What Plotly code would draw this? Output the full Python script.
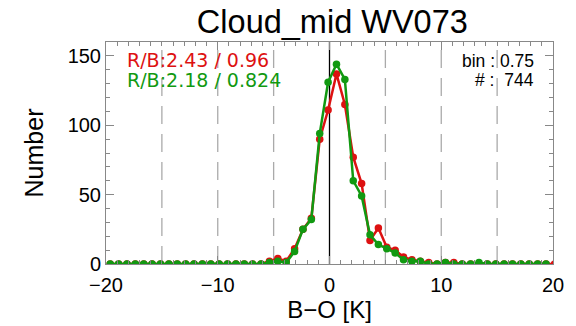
import plotly.graph_objects as go

bin_width = 0.75
x_start = -19.625
red_vals = [0]*19 + [2, 4, 2, 11, 25, 33, 90, 111, 137, 115, 77, 58, 17, 26, 12, 10, 5, 3, 2, 1, 0, 1, 1, 0, 0, 0, 0, 0, 0, 0, 0, 0, 0, 0, 0]
green_vals = [0]*19 + [1, 2, 1, 9, 25, 32, 94, 131, 144, 133, 60, 49, 21, 14, 11, 8, 3, 2, 2, 0, 0, 1, 0, 0, 0, 1, 0, 0, 0, 0, 0, 0, 0, 0]
centers = [x_start + bin_width*i for i in range(len(red_vals))]
dash_positions = [-15, -10, -5, 5, 10, 15]

RED = "#dd1111"
GREEN = "#119911"
FONT = "Liberation Sans, Arial, sans-serif"
FONT2 = "DejaVu Sans, sans-serif"

fig = go.Figure()
for xv in dash_positions:
    fig.add_shape(type="line", x0=xv, x1=xv, y0=0, y1=160, xref="x", yref="y",
                  line=dict(color="#aaaaaa", width=1.3, dash="18px,10px"), layer="below")
fig.add_shape(type="line", x0=0, x1=0, y0=0, y1=160, xref="x", yref="y",
              line=dict(color="black", width=1.3), layer="below")

fig.add_trace(go.Scatter(x=centers, y=red_vals, mode="lines+markers",
                         line=dict(color=RED, width=2.5), marker=dict(color=RED, size=7.5)))
fig.add_trace(go.Scatter(x=centers, y=green_vals, mode="lines+markers",
                         line=dict(color=GREEN, width=2.5), marker=dict(color=GREEN, size=7.5)))

axis_common = dict(showgrid=False, zeroline=False, showline=True, linecolor="#888888", linewidth=1,
                   mirror="allticks", ticks="inside", tickcolor="#888888",
                   tickfont=dict(size=20, color="black", family=FONT))
fig.update_xaxes(range=[-20, 20], tickvals=[-20, -10, 0, 10, 20], ticklen=8, ticklabelstandoff=3,
                 minor=dict(dtick=1, ticklen=4, ticks="inside", tickcolor="#888888"),
                 title=dict(text="B−O [K]", font=dict(size=24, color="black", family=FONT), standoff=0),
                 **axis_common)
fig.update_yaxes(range=[0, 160], tickvals=[0, 50, 100, 150], ticklen=8,
                 minor=dict(dtick=10, ticklen=4, ticks="inside", tickcolor="#888888"),
                 title=dict(text="Number", font=dict(size=25, color="black", family=FONT), standoff=16),
                 **axis_common)

fig.add_annotation(x=0.042, y=0.919, xref="paper", yref="paper", xanchor="left", yanchor="middle",
                   text="R/B:2.43 / 0.96", showarrow=False, font=dict(size=19, color=RED, family=FONT2))
fig.add_annotation(x=0.042, y=0.829, xref="paper", yref="paper", xanchor="left", yanchor="middle",
                   text="R/B:2.18 / 0.824", showarrow=False, font=dict(size=19, color=GREEN, family=FONT2))
fig.add_annotation(x=0.962, y=0.914, xref="paper", yref="paper", xanchor="right", yanchor="middle",
                   text="bin : 0.75", showarrow=False, font=dict(size=17.5, color="black", family=FONT))
fig.add_annotation(x=0.962, y=0.829, xref="paper", yref="paper", xanchor="right", yanchor="middle",
                   text="# :  744", showarrow=False, font=dict(size=17.5, color="black", family=FONT))

fig.update_layout(
    width=576, height=326,
    margin=dict(l=106, r=21, t=42, b=62),
    paper_bgcolor="white", plot_bgcolor="white",
    showlegend=False,
    title=dict(text="Cloud_mid WV073", x=0.577, xanchor="center", y=0.933, yanchor="middle",
               font=dict(size=32.5, color="black", family=FONT)),
)
fig.write_html("out.html")
